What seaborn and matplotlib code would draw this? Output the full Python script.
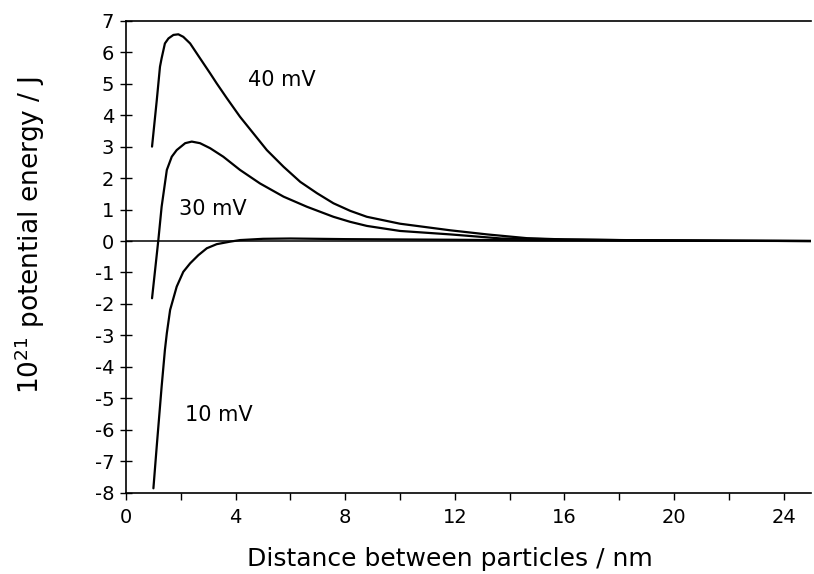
import numpy as np
import pandas as pd
import matplotlib
matplotlib.use('Agg')
import matplotlib.pyplot as plt
import seaborn as sns

# ── Data ──────────────────────────────────────────────────────────────────────
x_40mv = [0.95, 1.12, 1.24, 1.30, 1.42, 1.55, 1.73, 1.91, 2.09, 2.34, 2.70,
          3.07, 3.31, 3.68, 4.16, 4.65, 5.14, 5.75, 6.36, 6.97, 7.57, 8.18,
          8.79, 10.0, 11.84, 13.18, 14.64, 16.0, 18.0, 20.0, 22.0, 25.0]
y_40mv = [3.0, 4.45, 5.54, 5.81, 6.28, 6.44, 6.55, 6.57, 6.49, 6.28, 5.81,
          5.33, 5.01, 4.54, 3.95, 3.42, 2.89, 2.36, 1.88, 1.52, 1.20, 0.96,
          0.77, 0.55, 0.34, 0.21, 0.09, 0.05, 0.03, 0.02, 0.01, 0.0]

x_30mv = [0.95, 1.18, 1.30, 1.49, 1.67, 1.85, 2.16, 2.40, 2.70, 3.07, 3.55,
          4.16, 4.89, 5.75, 6.60, 7.57, 8.18, 8.79, 10.0, 11.84, 13.7, 14.64,
          16.0, 18.0, 20.0, 22.0, 25.0]
y_30mv = [-1.82, 0.03, 1.09, 2.26, 2.68, 2.89, 3.11, 3.16, 3.11, 2.95, 2.68,
          2.26, 1.83, 1.41, 1.09, 0.77, 0.61, 0.48, 0.32, 0.21, 0.08, 0.07,
          0.05, 0.03, 0.02, 0.01, 0.0]

x_10mv = [1.0, 1.12, 1.30, 1.42, 1.49, 1.61, 1.85, 2.09, 2.34, 2.64, 2.95,
          3.31, 3.80, 4.16, 5.0, 6.0, 8.0, 10.0, 12.0, 15.0, 20.0, 25.0]
y_10mv = [-7.86, -6.54, -4.63, -3.46, -2.93, -2.19, -1.45, -0.98, -0.71,
          -0.45, -0.23, -0.10, -0.02, 0.03, 0.07, 0.08, 0.06, 0.05, 0.04,
          0.02, 0.01, 0.0]

series_names = ['40 mV', '30 mV', '10 mV']
label_x = [4.46, 1.94, 2.16]
label_y = [5.12, 1.03, -5.53]

df = pd.concat([
    pd.DataFrame({'x': x_40mv, 'y': y_40mv, 'series': '40 mV'}),
    pd.DataFrame({'x': x_30mv, 'y': y_30mv, 'series': '30 mV'}),
    pd.DataFrame({'x': x_10mv, 'y': y_10mv, 'series': '10 mV'}),
], ignore_index=True)

# ── Style ─────────────────────────────────────────────────────────────────────
sns.set_theme(style='ticks')
plt.rcParams['font.family'] = ['DejaVu Sans']
plt.rcParams['mathtext.default'] = 'regular'
plt.rcParams['axes.unicode_minus'] = False
plt.rcParams['text.color'] = 'black'

fig = plt.figure(figsize=(8.14, 5.74), dpi=100)
ax = fig.add_axes([0.1548, 0.1416, 0.8415, 0.8222])

sns.lineplot(data=df, x='x', y='y', hue='series', hue_order=series_names,
             palette=['black'] * 3, sort=False, estimator=None,
             linewidth=1.6, legend=False, ax=ax)
ax.axhline(0, color='black', linewidth=1.1)

for name, tx, ty in zip(series_names, label_x, label_y):
    ax.text(tx, ty, name, fontsize=15, va='center', ha='left', color='black')

ax.set_xlim(0, 25)
ax.set_ylim(-8, 7)
ax.set_xticks(range(0, 25, 4))
ax.set_xticks(range(2, 25, 4), minor=True)
ax.set_yticks(range(-8, 8))
ax.tick_params(axis='x', which='both', direction='out', length=5, width=1,
               labelsize=14, pad=6, colors='black')
ax.tick_params(axis='y', direction='inout', length=9, width=1,
               labelsize=14, pad=4, colors='black')

for side in ['left', 'bottom', 'top']:
    ax.spines[side].set_color('black')
    ax.spines[side].set_linewidth(1.2)
ax.spines['right'].set_visible(False)

ax.set_xlabel('Distance between particles / nm', fontsize=18, color='black')
ax.xaxis.set_label_coords(0.473, -0.116)
ax.set_ylabel('10$^{21}$ potential energy / J', fontsize=19, color='black')
ax.yaxis.set_label_coords(-0.115, 0.546)

plt.savefig('out.png', dpi=100)
plt.close()
